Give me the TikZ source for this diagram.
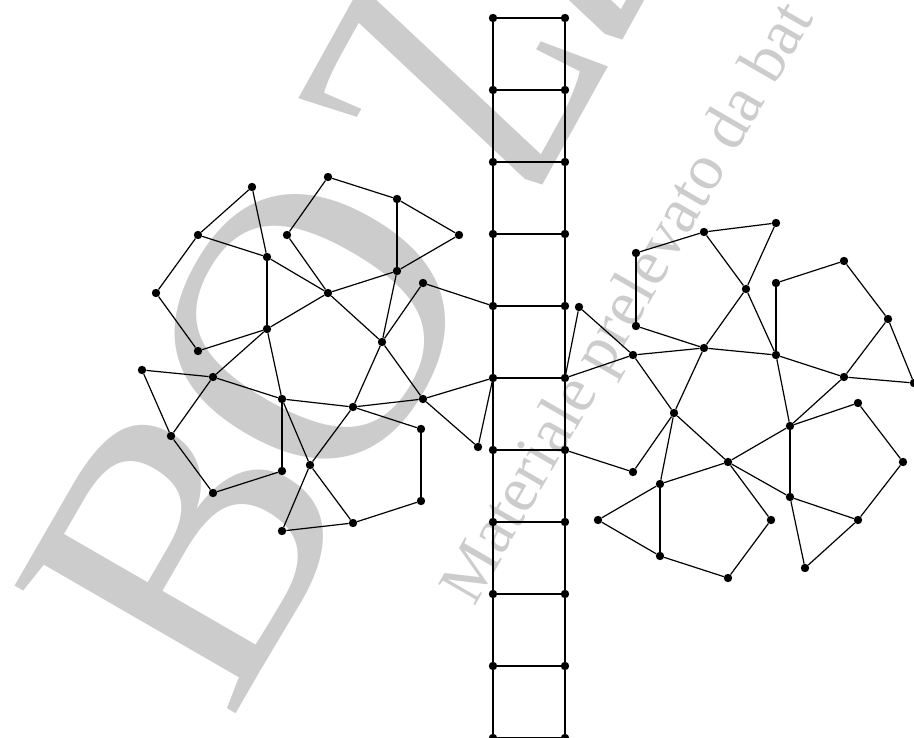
\documentclass[tikz,border=0pt]{standalone}
\usepackage{fontspec}
\newfontfamily\wmfont{Liberation Serif}
\definecolor{wmgray}{gray}{0.8}
\tikzset{
  x=1pt, y=-1pt,
  v/.style={circle, fill=black, inner sep=0pt, minimum size=8.4pt},
  e/.style={line width=1.2pt, black},
  wm/.style={text=wmgray, inner sep=0pt, outer sep=0pt}
}
\begin{document}
\begin{tikzpicture}
\useasboundingbox (0,0) rectangle (914,738);
% watermark
\node[wm, rotate=60, anchor=base west] (wB) at (230,723) {\wmfont\fontsize{390}{390}\selectfont B};
\node[wm, rotate=60, anchor=center] (wO) at (311,327) {\wmfont\fontsize{390}{390}\selectfont O};
\node[wm, rotate=61, xslant=-0.2, xscale=0.7, anchor=base west] (wZ) at (536,197) {\wmfont\fontsize{390}{390}\selectfont ZZA};
\node[wm, rotate=60, anchor=base west] (wT) at (474,607) {\wmfont\fontsize{65}{65}\selectfont Materiale prelevato da bat};
% ladder
\foreach \k in {0,...,10}{
  \node[v] (l\k) at (493,{18+72*\k}) {};
  \node[v] (r\k) at (565,{18+72*\k}) {};
}
\foreach \k in {0,...,10}{ \draw[e] (l\k) -- (r\k); }
\foreach \k [evaluate=\k as \n using int(\k+1)] in {0,...,9}{
  \draw[e] (l\k) -- (l\n);
  \draw[e] (r\k) -- (r\n);
}
% left cluster
\foreach \n/\x/\y in {a1/252/187,a2/198/235,a3/267/257,a4/156/293,a5/198/351,a6/267/329,a7/328/177,a8/397/199,a9/287/235,a10/459/235,a11/397/271,a12/328/293,a13/423/283,a14/382/342,a15/142/370,a16/213/377,a17/282/399,a18/353/407,a19/423/399,a20/171/436,a21/421/429,a22/282/471,a23/310/465,a24/213/493,a25/421/501,a26/353/523,a27/282/531,a28/478/447}
  {\node[v] (\n) at (\x,\y) {};}
% right cluster
\foreach \n/\x/\y in {b1/776/223,b2/704/232,b3/636/253,b4/746/289,b5/844/261,b6/776/283,b7/579/307,b8/636/326,b9/888/319,b10/704/348,b11/633/355,b12/776/355,b13/844/377,b14/914/383,b15/674/413,b16/790/426,b17/858/403,b18/728/462,b19/633/472,b20/660/484,b21/790/497,b22/903/462,b23/598/520,b24/771/520,b25/858/520,b26/660/556,b27/805/568,b28/728/578}
  {\node[v] (\n) at (\x,\y) {};}
% left edges
\foreach \p/\q in {a1/a2,a1/a3,a2/a3,a2/a4,a3/a6,a3/a12,a4/a5,a5/a6,a6/a12,a6/a16,a6/a17,a7/a8,a7/a9,a8/a10,a8/a11,a9/a12,a10/a11,a11/a12,a11/a14,a12/a14,a13/a14,a13/l4,a14/a18,a14/a19,a15/a16,a15/a20,a16/a17,a16/a20,a17/a18,a17/a22,a17/a23,a18/a19,a18/a21,a18/a23,a19/l5,a19/a28,a20/a24,a21/a25,a22/a24,a23/a26,a23/a27,a25/a26,a26/a27,a28/l5}
  {\draw[e] (\p) -- (\q);}
% right edges
\foreach \p/\q in {b1/b2,b1/b4,b2/b3,b2/b4,b3/b8,b4/b10,b4/b12,b5/b6,b5/b9,b6/b12,b7/r5,b7/b11,b8/b10,b9/b13,b9/b14,b10/b11,b10/b12,b10/b15,b11/r5,b11/b15,b12/b13,b12/b16,b13/b14,b13/b16,b15/b18,b15/b19,b15/b20,b16/b17,b16/b18,b16/b21,b17/b22,b18/b20,b18/b21,b18/b24,b19/r6,b20/b23,b20/b26,b21/b25,b21/b27,b22/b25,b23/b26,b24/b28,b26/b28,b25/b27}
  {\draw[e] (\p) -- (\q);}
\end{tikzpicture}
\end{document}
